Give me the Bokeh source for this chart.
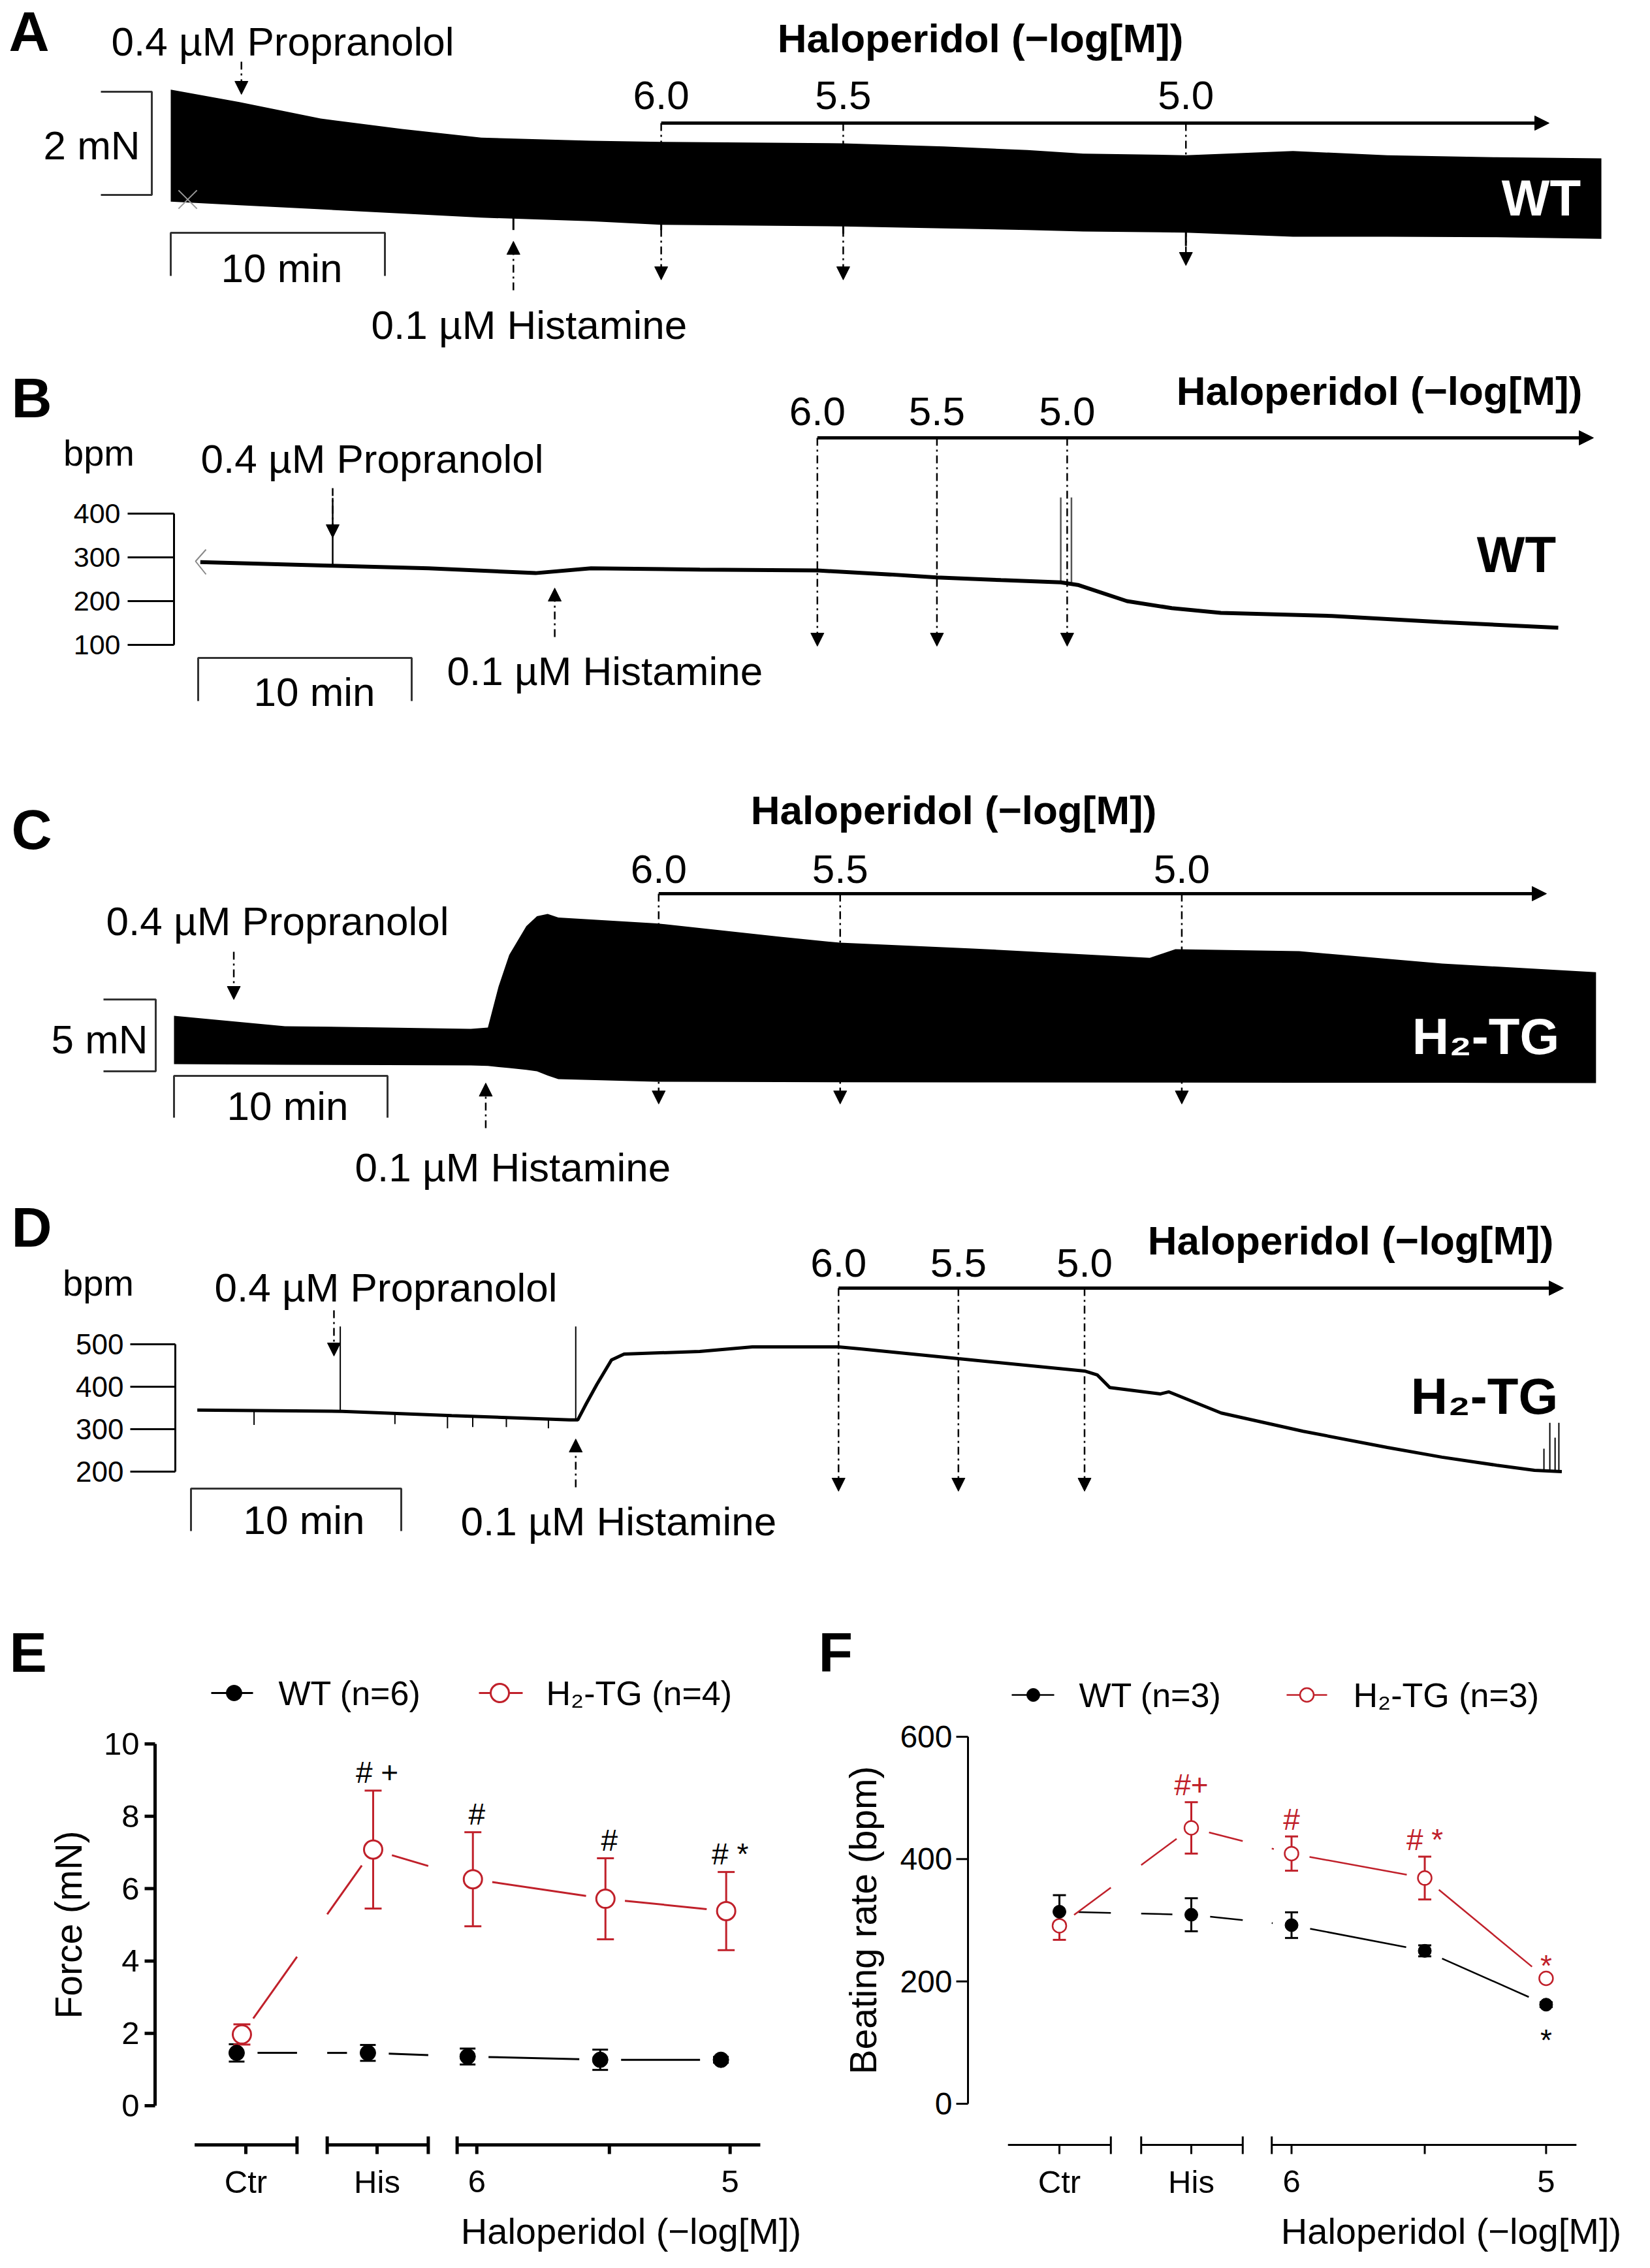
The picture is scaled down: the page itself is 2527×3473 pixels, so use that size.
import math
from bokeh.plotting import figure
from bokeh.models import Range1d, Arrow, NormalHead, Whisker, TeeHead, ColumnDataSource
from bokeh.layouts import column, row
from bokeh.core.properties import value
from bokeh.embed import file_html
from bokeh.resources import INLINE

FONT = "Liberation Sans"
RED = "#c0202a"
W = 2511

# ---------------- Panel A: WT force recording (envelope, mN) ----------------
a_time = [0, 3.2, 7.0, 10.8, 14.5, 19.6, 22.9, 31.4, 36.1, 40.0, 42.6, 47.4, 52.4, 56.8, 61.9, 66.8]
a_top = [2.04, 1.80, 1.48, 1.28, 1.11, 1.05, 1.03, 1.00, 0.94, 0.87, 0.80, 0.77, 0.85, 0.77, 0.73, 0.71]
a_bottom = [-0.13, -0.20, -0.28, -0.36, -0.44, -0.51, -0.58, -0.61, -0.65, -0.68, -0.71, -0.73, -0.81, -0.81, -0.82, -0.85]
a_prop_t = 3.3
a_hist_t = 16.0
a_halo_t = [22.9, 31.4, 47.4]
a_spike_t = [16.0, 22.9, 31.4, 47.4]
a_spike_tip = [-0.68, -0.68, -0.75, -0.99]

# ---------------- Panel B: WT beating rate (bpm) ----------------
b_time = [0.1, 6.2, 10.8, 15.8, 18.4, 23.5, 29.0, 32.4, 34.6, 37.6, 40.4, 41.2, 43.5, 45.6, 47.9, 53.1, 58.3, 63.7]
b_bpm = [289, 281, 275, 264, 275, 272, 270, 261, 254, 248, 243, 237, 200, 184, 173, 166, 152, 139]
b_prop_t = 6.3
b_hist_t = 16.7
b_halo_t = [29.0, 34.6, 40.7]
b_spike_t = [6.3, 40.4, 40.9]
b_spike_base = [281, 243, 243]
b_spike_tip = [436, 437, 437]
b_ticks = [100, 200, 300, 400]

# ---------------- Panel C: H2-TG force recording (envelope, mN) ----------------
c_time = [0, 5.2, 10.0, 13.9, 14.7, 15.2, 15.7, 16.5, 17.0, 17.5, 18.0, 22.6, 28.4, 31.2, 37.4, 45.7, 46.9, 52.7, 59.4, 66.6]
c_top = [3.86, 3.14, 3.05, 2.95, 3.05, 5.9, 8.1, 10.1, 10.8, 10.95, 10.7, 10.3, 9.36, 8.95, 8.55, 7.9, 8.5, 8.36, 7.5, 6.9]
c_bottom = [0.5, 0.45, 0.43, 0.41, 0.38, 0.3, 0.23, 0.1, 0.0, -0.3, -0.55, -0.73, -0.75, -0.76, -0.77, -0.78, -0.78, -0.8, -0.8, -0.82]
c_prop_t = 2.8
c_hist_t = 14.6
c_halo_t = [22.7, 31.2, 47.2]

# ---------------- Panel D: H2-TG beating rate (bpm) ----------------
d_time = [0.3, 7.2, 12.4, 18.0, 18.4, 18.8, 19.3, 20.0, 20.6, 24.2, 26.7, 30.8, 31.9, 36.5, 42.5, 43.1,
          43.7, 46.1, 46.5, 49.0, 52.9, 56.9, 59.5, 62.1, 63.9, 65.2]
d_bpm = [345, 342, 332, 322, 322, 360, 405, 463, 477, 483, 494, 494, 489, 466, 437, 428,
         398, 383, 388, 338, 295, 257, 234, 215, 203, 200]
d_prop_t = 6.8
d_hist_t = 18.3
d_halo_t = [30.8, 36.5, 42.5]
d_spike_t = [3.0, 7.1, 9.7, 12.2, 13.4, 15.0, 17.0, 18.3, 64.35, 64.63, 64.88, 65.06]
d_spike_base = [345, 342, 338, 332, 330, 326, 323, 322, 200, 200, 200, 200]
d_spike_tip = [310, 542, 312, 302, 305, 305, 302, 542, 254, 315, 280, 315]
d_ticks = [200, 300, 400, 500]

halo_labels = ["6.0", "5.5", "5.0"]

# ---------------- Panels E / F: summary data ----------------
cat_labels = ["Ctr", "His", "6", "", "5"]
cat_x = [0, 1, 1.76, 2.77, 3.69]
axis_segments = [(-0.39, 0.39), (0.62, 1.39), (1.61, 3.92)]

e_wt = [1.46, 1.46, 1.36, 1.27, 1.27]
e_wt_err = [0.24, 0.22, 0.22, 0.28, 0.08]
e_tg = [1.97, 7.08, 6.26, 5.72, 5.38]
e_tg_err = [0.28, 1.63, 1.30, 1.12, 1.08]
e_ticks = [0, 2, 4, 6, 8, 10]

f_wt = [314, 309, 292, 250, 162]
f_wt_err = [27, 27, 21, 9, 4]
f_tg = [291, 451, 409, 369, 205]
f_tg_err = [23, 42, 28, 35, 5]
f_ticks = [0, 200, 400, 600]


# ---------------- helpers ----------------
def tfig(h, X, Y, top, bottom, width=W, left=8, right=2519):
    p = figure(width=width, height=h, x_range=Range1d(X(left), X(right)), y_range=Range1d(Y(bottom), Y(top)),
               output_backend="svg", toolbar_location=None, x_axis_location=None, y_axis_location=None,
               min_border=0)
    p.outline_line_color = None
    p.grid.visible = False
    return p


def txt(p, x, y, s, size, bold=False, color="black", align="left", angle=0.0):
    p.text(x=[x], y=[y], text=[s], text_font=value(FONT), text_font_size=f"{size}px",
           text_font_style="bold" if bold else "normal", text_color=color,
           text_align=align, text_baseline="middle", angle=angle)


def arrow(p, x0, y0, x1, y1, dash="12 6 3 6", width=2.5, head=20):
    a = Arrow(x_start=x0, y_start=y0, x_end=x1, y_end=y1, line_dash=dash, line_width=width,
              line_color="black", level="underlay",
              end=NormalHead(size=head, fill_color="black", line_color="black", line_width=1))
    p.add_layout(a)


def timebar(p, x0, x1, y, ydrop):
    p.line([x0, x0, x1, x1], [ydrop, y, y, ydrop], line_color="#333333", line_width=3)


def halo(p, X, Y, ev, label_y, line_y, tips, end_px, title_xy):
    for t, lab, tip in zip(ev, halo_labels, tips):
        txt(p, t, Y(label_y), lab, 62, align="center")
        arrow(p, t, Y(line_y), t, Y(tip))
    arrow(p, ev[0], Y(line_y), X(end_px), Y(line_y), dash="solid", width=5, head=22)
    txt(p, X(title_xy[0]), Y(title_xy[1]), "Haloperidol (\u2212log[M])", 62, bold=True, align="center")


def y_axis(p, X, ticks, ax_px, tick_px, lab_px, size, lw):
    n = len(ticks)
    p.line([X(ax_px), X(ax_px)], [ticks[0], ticks[-1]], line_color="black", line_width=lw)
    p.segment(x0=[X(tick_px)] * n, y0=ticks, x1=[X(ax_px)] * n, y1=ticks, line_color="black", line_width=lw)
    p.text(x=[X(lab_px)] * n, y=ticks, text=[str(t) for t in ticks], text_font=value(FONT),
           text_font_size=f"{size}px", text_align="right", text_baseline="middle")


# ---------------- Panel A ----------------
AX = lambda px: (px - 269) / 32.8
AY = lambda py: (306 - py) / 79.0
pA = tfig(535, AX, AY, 8, 543)
halo(pA, AX, AY, a_halo_t, 153, 196, [436, 436, 414], 2380, (1509, 66))
arrow(pA, a_prop_t, AY(102), a_prop_t, AY(152))
arrow(pA, a_hist_t, AY(452), a_hist_t, AY(377))
pA.varea(x=a_time, y1=a_bottom, y2=a_top, fill_color="black")
pA.segment(x0=a_spike_t, y0=[0] * len(a_spike_t), x1=a_spike_t, y1=a_spike_tip, line_color="black", line_width=3)
pA.scatter([AX(295)], [AY(313)], marker="x", size=40, line_color="#999999", line_width=2)
txt(pA, AX(21), AY(55), "A", 86, bold=True)
txt(pA, AX(178), AY(71), "0.4 \u00b5M Propranolol", 62)
txt(pA, AX(576), AY(505), "0.1 \u00b5M Histamine", 62)
pA.line([AX(162), AX(240), AX(240), AX(162)], [2, 2, 0, 0], line_color="#333333", line_width=3)
txt(pA, AX(148), AY(230), "2 mN", 62, align="center")
timebar(pA, 0, 10, AY(364), AY(430))
txt(pA, AX(439), AY(418), "10 min", 62, align="center")
txt(pA, AX(2368), AY(310), "WT", 78, bold=True, color="white", align="center")

# ---------------- Panel B ----------------
BX = lambda px: (px - 311) / 32.7
BY = lambda py: 400 - (py - 794) / 0.67
pB = tfig(587, BX, BY, 543, 1130)
halo(pB, BX, BY, b_halo_t, 637, 678, [997, 997, 997], 2448, (2120, 606))
arrow(pB, b_prop_t, BY(755), b_prop_t, BY(831))
arrow(pB, b_hist_t, BY(983), b_hist_t, BY(908))
pB.segment(x0=b_spike_t, y0=b_spike_base, x1=b_spike_t, y1=b_spike_tip,
           line_color=["black", "#555555", "#555555"], line_width=2.5)
pB.line(b_time, b_bpm, line_color="black", line_width=6)
pB.line([BX(323), BX(307), BX(323)], [BY(849), BY(867), BY(887)], line_color="#888888", line_width=2)
y_axis(pB, BX, b_ticks, 274, 203, 192, 43, 3)
txt(pB, BX(25), BY(616), "B", 86, bold=True)
txt(pB, BX(159), BY(701), "bpm", 56, align="center")
txt(pB, BX(315), BY(710), "0.4 \u00b5M Propranolol", 62)
txt(pB, BX(692), BY(1035), "0.1 \u00b5M Histamine", 62)
timebar(pB, 0, 10, BY(1015), BY(1081))
txt(pB, BX(489), BY(1067), "10 min", 62, align="center")
txt(pB, BX(2330), BY(856), "WT", 78, bold=True, align="center")

# ---------------- Panel C ----------------
CX = lambda px: (px - 274) / 32.7
CY = lambda py: (1648 - py) / 22.0
pC = tfig(700, CX, CY, 1130, 1830)
halo(pC, CX, CY, c_halo_t, 1338, 1376, [1698, 1698, 1698], 2376, (1468, 1248))
arrow(pC, c_prop_t, CY(1465), c_prop_t, CY(1538))
arrow(pC, c_hist_t, CY(1735), c_hist_t, CY(1666))
pC.varea(x=c_time, y1=c_bottom, y2=c_top, fill_color="black")
txt(pC, CX(25), CY(1277), "C", 86, bold=True)
txt(pC, CX(170), CY(1418), "0.4 \u00b5M Propranolol", 62)
txt(pC, CX(551), CY(1795), "0.1 \u00b5M Histamine", 62)
pC.line([CX(166), CX(246), CX(246), CX(166)], [5, 5, 0, 0], line_color="#333333", line_width=3)
txt(pC, CX(160), CY(1599), "5 mN", 62, align="center")
timebar(pC, 0, 10, CY(1655), CY(1719))
txt(pC, CX(448), CY(1701), "10 min", 62, align="center")
txt(pC, CX(2283), CY(1594), "H\u2082-TG", 78, bold=True, color="white", align="center")

# ---------------- Panel D ----------------
DX = lambda px: (px - 300) / 32.2
DY = lambda py: 500 - (py - 2066) / 0.65
pD = tfig(610, DX, DY, 1830, 2440)
halo(pD, DX, DY, d_halo_t, 1941, 1980, [2291, 2291, 2291], 2402, (2076, 1907))
arrow(pD, d_prop_t, DY(2014), d_prop_t, DY(2084))
arrow(pD, d_hist_t, DY(2285), d_hist_t, DY(2211))
pD.segment(x0=d_spike_t, y0=d_spike_base, x1=d_spike_t, y1=d_spike_tip, line_color="black", line_width=2)
pD.line(d_time, d_bpm, line_color="black", line_width=5)
y_axis(pD, DX, d_ticks, 276, 207, 197, 44, 3)
txt(pD, DX(25), DY(1886), "D", 86, bold=True)
txt(pD, DX(158), DY(1972), "bpm", 56, align="center")
txt(pD, DX(336), DY(1979), "0.4 \u00b5M Propranolol", 62)
txt(pD, DX(713), DY(2337), "0.1 \u00b5M Histamine", 62)
timebar(pD, 0, 10, DY(2287), DY(2352))
txt(pD, DX(473), DY(2335), "10 min", 62, align="center")
txt(pD, DX(2281), DY(2145), "H\u2082-TG", 78, bold=True, align="center")


# ---------------- summary panels ----------------
def gapped(xs, ys, sx, sy, gap, breaks):
    gx, gy = [], []
    for i in range(len(xs) - 1):
        x1, y1 = xs[i] * sx, ys[i] * sy
        x2, y2 = xs[i + 1] * sx, ys[i + 1] * sy
        L = math.hypot(x2 - x1, y2 - y1)
        if L <= 2 * gap:
            continue
        ux, uy = (x2 - x1) / L, (y2 - y1) / L
        pieces = [(x1 + ux * gap, y1 + uy * gap, x2 - ux * gap, y2 - uy * gap)]
        for b0, b1 in breaks:
            b0, b1 = b0 * sx, b1 * sx
            new = []
            for (ax, ay, bx, by) in pieces:
                if bx <= b0 or ax >= b1:
                    new.append((ax, ay, bx, by))
                    continue
                def yat(xx, ax=ax, ay=ay, bx=bx, by=by):
                    return ay + (by - ay) * (xx - ax) / (bx - ax)
                if ax < b0:
                    new.append((ax, ay, b0, yat(b0)))
                if bx > b1:
                    new.append((b1, yat(b1), bx, by))
            pieces = new
        for ax, ay, bx, by in pieces:
            gx.append([ax / sx, bx / sx])
            gy.append([ay / sy, by / sy])
    return gx, gy


def cat_axis(p, Y, lw):
    yl = Y(3292)
    for s0, s1 in axis_segments:
        p.line([s0, s1], [yl, yl], line_color="black", line_width=lw)
    caps = [axis_segments[0][1], axis_segments[1][0], axis_segments[1][1], axis_segments[2][0]]
    p.segment(x0=caps, y0=[Y(3279)] * 4, x1=caps, y1=[Y(3306)] * 4, line_color="black", line_width=lw)
    n = len(cat_x)
    p.segment(x0=cat_x, y0=[yl] * n, x1=cat_x, y1=[Y(3306)] * n, line_color="black", line_width=lw)
    p.text(x=cat_x, y=[Y(3348)] * n, text=cat_labels, text_font=value(FONT), text_font_size="49px",
           text_align="center", text_baseline="middle")


def whisk(p, xs, ys, errs, color, head, lw):
    src = ColumnDataSource(dict(x=xs, upper=[v + e for v, e in zip(ys, errs)], lower=[v - e for v, e in zip(ys, errs)]))
    w = Whisker(source=src, base="x", upper="upper", lower="lower", line_color=color, line_width=lw,
                upper_head=TeeHead(size=head, line_color=color, line_width=lw),
                lower_head=TeeHead(size=head, line_color=color, line_width=lw), level="underlay")
    p.add_layout(w)


breaks = [(axis_segments[0][1], axis_segments[1][0]), (axis_segments[1][1], axis_segments[2][0])]

# ---- E ----
ex = lambda px: (px - 384) / 201.0
ey = lambda py: (3232 - py) / 55.4
pE = tfig(1025, ex, ey, 2440, 3465, width=1252, left=8, right=1260)
y_axis(pE, ex, e_ticks, 245, 229, 221, 49, 5)
txt(pE, ex(112), ey(2955), "Force (mN)", 57, align="center", angle=math.pi / 2)
e_wt_x = [c - 0.07 for c in cat_x]
e_tg_x = [c - 0.03 for c in cat_x]
gx, gy = gapped(e_wt_x, e_wt, 201.0, 55.4, 32, breaks)
pE.multi_line(gx, gy, line_color="black", line_width=3)
gx, gy = gapped(e_tg_x, e_tg, 201.0, 55.4, 30, breaks)
pE.multi_line(gx, gy, line_color=RED, line_width=3)
whisk(pE, e_wt_x, e_wt, e_wt_err, "black", 24, 3)
whisk(pE, e_tg_x, e_tg, e_tg_err, RED, 26, 3)
pE.scatter(e_wt_x, e_wt, marker="circle", size=24, fill_color="black", line_color="black")
pE.scatter(e_tg_x, e_tg, marker="circle", size=28, fill_color="white", line_color=RED, line_width=3)
cat_axis(pE, ey, 5)
txt(pE, ex(974), ey(3424), "Haloperidol (\u2212log[M])", 56, align="center")
e_sig = ["", "# +", "#", "#", "# *"]
for xx, v, e, s in zip(e_tg_x, e_tg, e_tg_err, e_sig):
    if s:
        txt(pE, xx + 0.03, v + e + 0.5, s, 46, align="center")
pE.line([ex(331), ex(395)], [ey(2600)] * 2, line_color="black", line_width=3)
pE.scatter([ex(366)], [ey(2600)], marker="circle", size=24, fill_color="black", line_color="black")
txt(pE, ex(434), ey(2600), "WT (n=6)", 52)
pE.line([ex(741), ex(808)], [ey(2600)] * 2, line_color=RED, line_width=3)
pE.scatter([ex(773)], [ey(2600)], marker="circle", size=28, fill_color="white", line_color=RED, line_width=3)
txt(pE, ex(844), ey(2600), "H\u2082-TG (n=4)", 52)
txt(pE, ex(22), ey(2537), "E", 86, bold=True)

# ---- F ----
fx = lambda px: (px - 1630) / 202.0
fy = lambda py: (3229 - py) / 0.9367
pF = tfig(1025, fx, fy, 2440, 3465, width=1259, left=1260, right=2519)
y_axis(pF, fx, f_ticks, 1490, 1472, 1466, 48, 3)
txt(pF, fx(1329), fy(2948), "Beating rate (bpm)", 57, align="center", angle=math.pi / 2)
gx, gy = gapped(cat_x, f_wt, 202.0, 0.9367, 29, breaks)
pF.multi_line(gx, gy, line_color="black", line_width=2.5)
gx, gy = gapped(cat_x, f_tg, 202.0, 0.9367, 28, breaks)
pF.multi_line(gx, gy, line_color=RED, line_width=2.5)
whisk(pF, cat_x, f_tg, f_tg_err, RED, 20, 3)
whisk(pF, cat_x, f_wt, f_wt_err, "black", 20, 3)
pF.scatter(cat_x, f_tg, marker="circle", size=21, fill_color="white", line_color=RED, line_width=2.5)
pF.scatter(cat_x, f_wt, marker="circle", size=20, fill_color="black", line_color="black")
cat_axis(pF, fy, 3)
txt(pF, fx(2230), fy(3424), "Haloperidol (\u2212log[M])", 56, align="center")
f_sig = ["", "#+", "#", "# *", ""]
for xx, v, e, s in zip(cat_x, f_tg, f_tg_err, f_sig):
    if s:
        txt(pF, xx, v + e + 28, s, 46, color=RED, align="center")
txt(pF, cat_x[4], f_tg[4] + 21, "*", 46, color=RED, align="center")
txt(pF, cat_x[4], f_wt[4] - 58, "*", 46, align="center")
pF.line([fx(1557), fx(1622)], [fy(2603)] * 2, line_color="black", line_width=2.5)
pF.scatter([fx(1590)], [fy(2603)], marker="circle", size=20, fill_color="black", line_color="black")
txt(pF, fx(1660), fy(2603), "WT (n=3)", 52)
pF.line([fx(1978), fx(2040)], [fy(2603)] * 2, line_color=RED, line_width=2.5)
pF.scatter([fx(2009)], [fy(2603)], marker="circle", size=21, fill_color="white", line_color=RED, line_width=2.5)
txt(pF, fx(2080), fy(2603), "H\u2082-TG (n=3)", 52)
txt(pF, fx(1261), fy(2537), "F", 86, bold=True)

layout = column(pA, pB, pC, pD, row(pE, pF))
open("out.html", "w").write(file_html(layout, INLINE))
